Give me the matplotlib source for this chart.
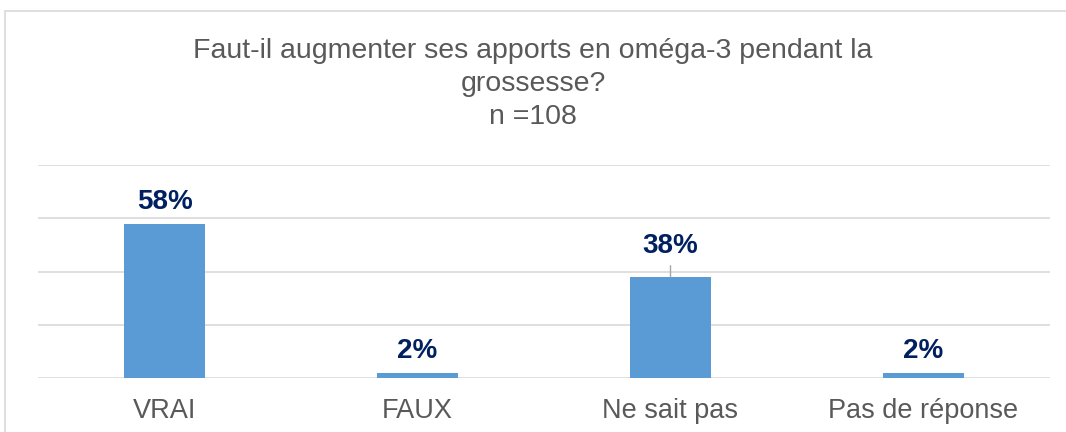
import matplotlib.pyplot as plt
from matplotlib.patches import Rectangle

categories = ["VRAI", "FAUX", "Ne sait pas", "Pas de réponse"]
values = [58, 2, 38, 2]
labels = ["58%", "2%", "38%", "2%"]

plt.rcParams['font.family'] = ['Liberation Sans', 'DejaVu Sans']

fig = plt.figure(figsize=(10.66, 4.32), dpi=100)
ax = fig.add_axes([38 / 1066, 54 / 432, 1012 / 1066, 213 / 432])

# chart frame (runs off the right/bottom edge like the screenshot)
fig.patches.append(Rectangle((5 / 1066, -0.1), 1.2, (421 / 432) + 0.1,
                             transform=fig.transFigure, fill=False,
                             edgecolor='#D9D9D9', linewidth=1.2))

x = range(len(categories))
ax.bar(x, values, width=0.32, color='#5B9BD5', zorder=3)

ax.set_xlim(-0.5, len(categories) - 0.5)
ax.set_ylim(0, 80)
ax.set_yticks([0, 20, 40, 60, 80])
ax.yaxis.grid(True, color='#D9D9D9', linewidth=1.2, zorder=0)
ax.tick_params(axis='y', left=False, labelleft=False)
ax.tick_params(axis='x', bottom=False, labelsize=19.5, labelcolor='#595959', pad=11)
ax.set_xticks(list(x))
ax.set_xticklabels(categories)
for s in ax.spines.values():
    s.set_visible(False)

for i, (v, lab) in enumerate(zip(values, labels)):
    if lab == "38%":
        ax.annotate(lab, xy=(i, v), xytext=(0, 13), textcoords='offset points',
                    ha='center', va='bottom', fontsize=20, fontweight='bold',
                    color='#002060',
                    arrowprops=dict(arrowstyle='-', color='#A6A6A6', lw=1,
                                    shrinkA=3, shrinkB=0))
    else:
        ax.annotate(lab, xy=(i, v), xytext=(0, 6), textcoords='offset points',
                    ha='center', va='bottom', fontsize=20, fontweight='bold',
                    color='#002060')

fig.text(0.5, 1 - 84 / 432, "Faut-il augmenter ses apports en oméga-3 pendant la\ngrossesse?\nn =108",
         ha='center', va='center', fontsize=20.5, color='#595959', linespacing=1.36)

fig.savefig('out.png', dpi=100)
